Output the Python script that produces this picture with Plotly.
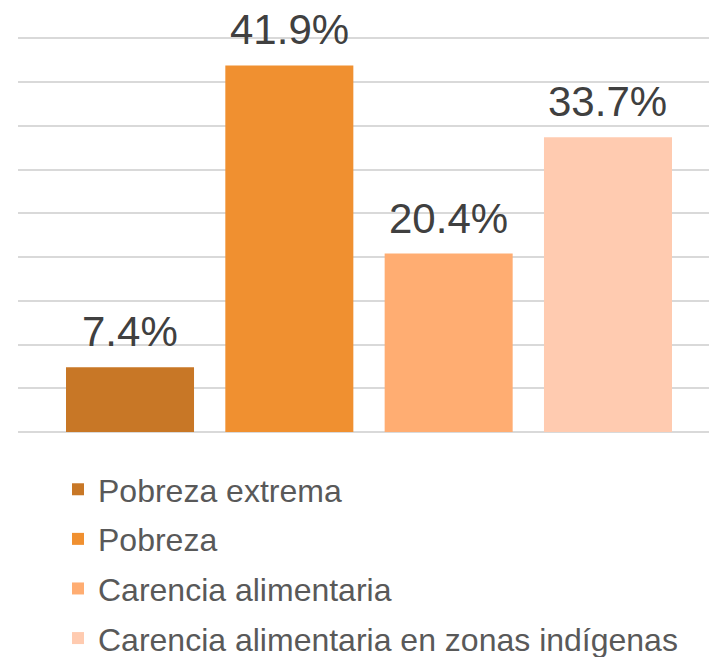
import plotly.graph_objects as go

series_names = ["Pobreza extrema", "Pobreza", "Carencia alimentaria",
                "Carencia alimentaria en zonas indígenas"]
values = [7.4, 41.9, 20.4, 33.7]
colors = ["#C87726", "#F09030", "#FFAD72", "#FFCBB0"]
y_ticks = [0, 5, 10, 15, 20, 25, 30, 35, 40, 45]

fig = go.Figure()
for i, (name, v, c) in enumerate(zip(series_names, values, colors)):
    fig.add_trace(go.Bar(
        x=[i], y=[v], name=name, width=0.8035,
        marker=dict(color=c, line=dict(width=0)),
        legendgroup=name,
    ))
    fig.add_annotation(
        x=i, y=v, xref="x", yref="y", text=f"{v:.1f}%",
        showarrow=False, yanchor="bottom", yshift=10,
        font=dict(family="Liberation Sans, Arial", size=42, color="#404040"),
    )

fig.update_layout(
    width=709, height=657,
    margin=dict(l=18, r=0, t=33.6, b=225, autoexpand=False),
    paper_bgcolor="white", plot_bgcolor="white",
    barmode="overlay",
    showlegend=True,
    legend=dict(
        x=0.0579, xanchor="left", y=-0.0753, yanchor="top",
        font=dict(family="Liberation Sans, Arial", size=32, color="#595959"),
        traceorder="grouped", tracegroupgap=5,
        bgcolor="rgba(0,0,0,0)",
    ),
    xaxis=dict(range=[-0.703, 3.634], showticklabels=False, showgrid=False,
               zeroline=False, showline=False, ticks=""),
    yaxis=dict(range=[0, 45.5], tickvals=y_ticks, showticklabels=False,
               showgrid=True, gridcolor="#D9D9D9", gridwidth=1.8,
               zeroline=True, zerolinecolor="#D9D9D9", zerolinewidth=1.8,
               showline=False, ticks=""),
)

fig.write_html(
    "out.html",
    config={"displayModeBar": False},
    post_script="document.body.style.margin='0';document.body.style.overflow='hidden';",
)
